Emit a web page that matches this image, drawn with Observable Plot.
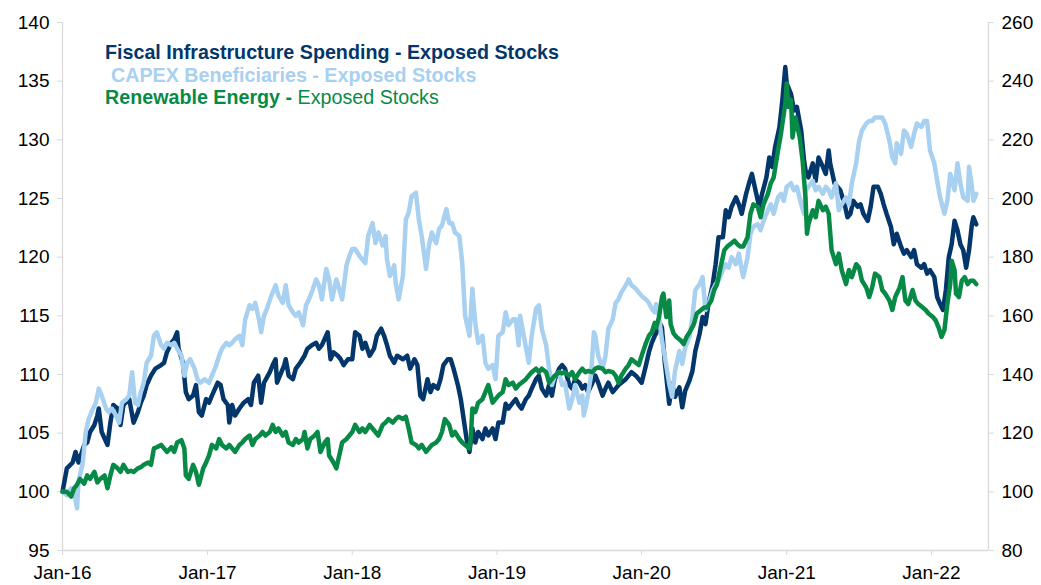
<!DOCTYPE html>
<html><head><meta charset="utf-8">
<script src="https://cdn.jsdelivr.net/npm/d3@7"></script>
<script src="https://cdn.jsdelivr.net/npm/@observablehq/plot@0.6"></script>
<style>
body{margin:0;background:#fff;}
#wrap{position:relative;width:1041px;height:585px;font-family:"Liberation Sans",Arial,sans-serif;}
#legend{position:absolute;left:105px;top:41px;font-size:19.7px;line-height:22.5px;z-index:2;white-space:pre;}
#legend b{font-weight:bold;}
</style></head><body><div id="wrap"><div id="legend"></div></div>
<script>
// ---- data (decimal year, index value) ----
const seriesNames = ["Fiscal Infrastructure Spending", "CAPEX Beneficiaries", "Renewable Energy"];
const seriesSuffix = " - Exposed Stocks";
const seriesColors = ["#03366A", "#A8D0F0", "#078A45"];
const leftTicks = [95,100,105,110,115,120,125,130,135,140];
const rightTicks = [80,100,120,140,160,180,200,220,240,260];
const xTickYears = [2016,2017,2018,2019,2020,2021,2022];

// Fiscal Infrastructure Spending (left axis)
const fiscal = [[2016.00,100.0],[2016.03,102.0],[2016.07,102.5],[2016.09,103.4],[2016.11,102.5],[2016.15,104.0],[2016.17,104.2],[2016.19,105.1],[2016.22,105.7],[2016.24,106.5],[2016.25,107.1],[2016.27,105.1],[2016.31,104.0],[2016.33,105.9],[2016.35,107.4],[2016.38,107.1],[2016.40,105.7],[2016.42,107.4],[2016.46,107.9],[2016.49,105.9],[2016.52,106.8],[2016.54,107.6],[2016.56,108.2],[2016.58,109.1],[2016.61,109.9],[2016.64,110.5],[2016.68,110.8],[2016.70,111.0],[2016.72,111.9],[2016.75,112.7],[2016.77,113.0],[2016.79,113.6],[2016.80,112.2],[2016.83,111.0],[2016.85,108.5],[2016.87,107.9],[2016.90,108.2],[2016.92,109.1],[2016.94,106.8],[2016.96,106.5],
[2016.99,107.9],[2017.01,107.6],[2017.03,108.2],[2017.07,109.3],[2017.09,109.1],[2017.11,107.9],[2017.14,107.4],[2017.15,105.9],[2017.17,107.4],[2017.19,106.5],[2017.22,107.1],[2017.25,107.6],[2017.28,107.9],[2017.30,107.4],[2017.32,109.3],[2017.35,109.9],[2017.37,107.6],[2017.39,109.3],[2017.43,110.2],[2017.45,110.8],[2017.47,111.3],[2017.48,109.3],[2017.51,110.2],[2017.53,110.8],[2017.54,111.3],[2017.56,109.9],[2017.59,109.6],[2017.61,110.5],[2017.64,111.0],[2017.67,111.6],[2017.69,112.2],[2017.72,112.5],[2017.75,112.7],[2017.77,112.2],[2017.79,112.5],[2017.83,113.6],[2017.85,111.3],[2017.87,111.9],[2017.90,111.6],[2017.92,111.3],[2017.94,110.8],[2017.97,111.3],[2018.00,111.3],
[2018.02,113.6],[2018.05,113.3],[2018.07,112.2],[2018.09,112.7],[2018.12,111.6],[2018.15,112.2],[2018.17,113.3],[2018.20,113.9],[2018.22,113.3],[2018.24,112.5],[2018.26,111.6],[2018.29,111.0],[2018.31,111.6],[2018.35,111.3],[2018.38,111.6],[2018.40,110.5],[2018.43,111.3],[2018.45,110.8],[2018.47,108.2],[2018.49,107.9],[2018.52,109.6],[2018.54,108.5],[2018.56,109.1],[2018.59,108.8],[2018.61,109.6],[2018.63,110.8],[2018.66,111.3],[2018.68,111.3],[2018.70,110.5],[2018.73,109.1],[2018.75,107.9],[2018.77,106.2],[2018.79,104.5],[2018.81,103.4],[2018.83,105.4],[2018.85,104.2],[2018.87,105.1],[2018.90,104.5],[2018.92,105.4],[2018.94,104.8],[2018.97,105.4],[2018.99,104.5],[2019.01,105.9],[2019.04,105.9],
[2019.06,107.5],[2019.08,107.1],[2019.11,107.6],[2019.13,107.9],[2019.15,107.4],[2019.17,107.1],[2019.20,107.9],[2019.22,108.2],[2019.24,108.8],[2019.27,109.6],[2019.29,109.9],[2019.31,108.8],[2019.34,108.2],[2019.36,109.1],[2019.38,108.2],[2019.40,109.6],[2019.43,110.5],[2019.45,110.8],[2019.47,110.5],[2019.50,109.1],[2019.52,108.8],[2019.54,109.6],[2019.57,109.3],[2019.59,108.8],[2019.61,109.1],[2019.63,108.5],[2019.66,109.3],[2019.68,109.9],[2019.70,109.3],[2019.73,108.2],[2019.75,108.8],[2019.77,109.3],[2019.80,108.5],[2019.82,108.8],[2019.84,109.1],[2019.86,109.3],[2019.89,109.6],[2019.91,109.9],[2019.93,110.2],[2019.96,109.9],[2019.98,109.6],[2020.00,109.3],[2020.03,110.8],[2020.05,111.9],[2020.07,112.7],[2020.09,113.3],
[2020.10,113.5],[2020.12,114.5],[2020.14,114.0],[2020.16,111.0],[2020.19,107.5],[2020.21,109.2],[2020.23,108.1],[2020.26,108.9],[2020.28,107.2],[2020.30,108.6],[2020.33,109.5],[2020.35,110.3],[2020.37,112.0],[2020.40,113.5],[2020.42,114.9],[2020.44,114.3],[2020.46,116.0],[2020.49,117.7],[2020.51,119.4],[2020.53,121.7],[2020.56,121.7],[2020.58,124.0],[2020.60,123.4],[2020.62,124.3],[2020.65,125.1],[2020.67,124.5],[2020.69,123.7],[2020.72,125.4],[2020.74,126.3],[2020.76,127.1],[2020.79,125.4],[2020.81,124.3],[2020.83,125.4],[2020.86,126.8],[2020.88,128.5],[2020.90,127.7],[2020.92,129.4],[2020.95,131.1],[2020.97,133.4],[2020.99,136.2],[2021.00,134.8],[2021.03,133.9],[2021.05,132.5],[2021.07,132.8],[2021.10,130.8],[2021.12,128.2],
[2021.13,127.4],[2021.15,126.8],[2021.18,128.0],[2021.20,126.5],[2021.22,128.5],[2021.25,127.7],[2021.27,127.1],[2021.29,129.1],[2021.30,128.0],[2021.33,126.3],[2021.35,126.0],[2021.37,125.7],[2021.40,124.5],[2021.42,123.4],[2021.44,123.7],[2021.46,124.8],[2021.49,124.3],[2021.51,124.5],[2021.53,123.7],[2021.56,123.1],[2021.58,124.3],[2021.60,126.0],[2021.63,126.0],[2021.65,125.4],[2021.67,124.5],[2021.69,123.7],[2021.72,122.6],[2021.74,121.1],[2021.76,122.0],[2021.79,120.9],[2021.81,120.3],[2021.83,120.6],[2021.86,120.0],[2021.88,120.6],[2021.90,119.4],[2021.93,119.1],[2021.95,119.4],[2021.97,118.6],[2021.99,118.9],[2022.02,118.3],[2022.04,116.6],[2022.06,116.0],[2022.08,115.5],[2022.10,117.2],[2022.12,120.0],[2022.14,121.1],[2022.16,123.1],[2022.18,122.3],[2022.20,121.1],[2022.22,120.6],[2022.24,119.1],[2022.26,120.6],[2022.28,122.8],[2022.29,123.4],[2022.31,122.8]];

// CAPEX Beneficiaries (left axis)
const capex = [[2016.00,100.0],[2016.03,99.7],[2016.06,100.3],[2016.08,100.0],[2016.10,98.6],[2016.11,100.8],[2016.14,102.5],[2016.16,105.1],[2016.18,106.2],[2016.20,106.8],[2016.23,107.6],[2016.25,108.8],[2016.27,108.2],[2016.30,107.1],[2016.32,106.8],[2016.34,107.1],[2016.37,106.5],[2016.39,105.9],[2016.41,107.6],[2016.44,107.9],[2016.46,108.2],[2016.48,110.2],[2016.50,107.6],[2016.52,107.4],[2016.54,108.5],[2016.56,109.3],[2016.58,111.0],[2016.61,111.6],[2016.63,113.3],[2016.65,113.6],[2016.68,112.5],[2016.70,112.2],[2016.72,112.7],[2016.75,112.5],[2016.77,112.7],[2016.79,112.2],[2016.82,111.6],[2016.84,109.9],[2016.86,111.0],[2016.88,111.3],[2016.91,110.5],[2016.93,109.6],[2016.95,109.3],[2016.98,109.6],
[2017.01,109.3],[2017.03,109.9],[2017.06,110.8],[2017.08,111.6],[2017.10,112.2],[2017.13,112.7],[2017.15,112.5],[2017.17,112.7],[2017.19,113.0],[2017.22,113.3],[2017.24,112.5],[2017.26,114.7],[2017.29,115.9],[2017.31,115.6],[2017.33,116.1],[2017.36,114.4],[2017.37,113.6],[2017.39,115.0],[2017.41,115.6],[2017.44,116.7],[2017.47,117.6],[2017.49,116.7],[2017.52,116.1],[2017.54,117.6],[2017.56,115.9],[2017.59,115.3],[2017.61,115.0],[2017.63,115.3],[2017.66,114.2],[2017.68,115.9],[2017.70,116.4],[2017.72,117.0],[2017.75,118.1],[2017.77,117.6],[2017.79,116.4],[2017.82,119.0],[2017.84,118.1],[2017.86,116.4],[2017.89,118.1],[2017.91,117.3],[2017.93,116.4],[2017.96,119.3],[2017.98,120.1],[2018.00,120.7],
[2018.02,120.7],[2018.05,120.1],[2018.07,119.8],[2018.09,119.5],[2018.11,121.8],[2018.14,122.9],[2018.16,121.2],[2018.18,122.1],[2018.21,121.0],[2018.23,121.8],[2018.24,119.8],[2018.26,118.4],[2018.29,119.3],[2018.30,117.8],[2018.32,116.4],[2018.35,118.4],[2018.37,123.2],[2018.39,123.8],[2018.41,125.2],[2018.44,125.5],[2018.46,123.2],[2018.48,121.8],[2018.51,119.0],[2018.53,121.0],[2018.55,122.1],[2018.58,121.2],[2018.60,122.4],[2018.62,122.7],[2018.65,124.1],[2018.67,122.9],[2018.69,122.9],[2018.71,122.1],[2018.74,121.8],[2018.76,119.5],[2018.78,115.0],[2018.81,113.3],[2018.83,117.3],[2018.85,114.4],[2018.87,112.7],[2018.90,113.3],[2018.92,111.0],[2018.94,110.5],[2018.97,110.8],[2018.99,109.6],[2019.01,113.3],[2019.04,113.6],
[2019.06,115.3],[2019.08,114.2],[2019.11,114.7],[2019.13,114.7],[2019.15,112.5],[2019.16,115.0],[2019.19,113.0],[2019.22,111.0],[2019.24,113.3],[2019.27,115.6],[2019.29,115.9],[2019.31,113.9],[2019.34,112.5],[2019.36,110.5],[2019.38,109.1],[2019.40,109.9],[2019.43,110.2],[2019.45,109.1],[2019.47,109.3],[2019.50,107.1],[2019.52,107.9],[2019.54,109.1],[2019.57,107.6],[2019.59,108.2],[2019.60,106.5],[2019.62,107.6],[2019.65,109.9],[2019.67,113.6],[2019.68,113.3],[2019.70,111.6],[2019.73,110.5],[2019.75,111.6],[2019.77,113.9],[2019.80,114.7],[2019.82,116.1],[2019.84,116.4],[2019.86,117.0],[2019.89,117.6],[2019.91,118.1],[2019.93,117.6],[2019.96,117.3],[2019.98,117.0],[2020.00,116.7],[2020.03,116.4],[2020.05,116.1],[2020.07,115.6],[2020.09,115.3],
[2020.10,116.0],[2020.12,114.9],[2020.14,112.9],[2020.16,111.5],[2020.19,109.2],[2020.21,108.1],[2020.23,110.3],[2020.26,112.0],[2020.28,110.9],[2020.30,112.3],[2020.33,113.2],[2020.35,114.9],[2020.37,117.2],[2020.40,117.7],[2020.42,118.3],[2020.44,115.5],[2020.46,116.0],[2020.49,117.2],[2020.51,117.7],[2020.53,118.0],[2020.56,118.9],[2020.58,119.4],[2020.60,119.1],[2020.62,120.0],[2020.65,119.4],[2020.67,120.3],[2020.69,118.9],[2020.70,118.3],[2020.73,120.0],[2020.75,122.0],[2020.77,122.6],[2020.80,122.8],[2020.82,122.3],[2020.84,123.1],[2020.87,124.0],[2020.89,124.5],[2020.91,123.7],[2020.94,125.1],[2020.96,125.4],[2020.98,124.8],[2021.00,126.0],[2021.03,126.3],[2021.05,125.7],[2021.07,126.0],[2021.10,124.5],[2021.12,123.7],
[2021.13,125.7],[2021.15,126.0],[2021.18,126.5],[2021.20,125.7],[2021.22,126.0],[2021.25,125.4],[2021.27,126.0],[2021.29,125.7],[2021.31,125.1],[2021.34,126.3],[2021.36,124.0],[2021.38,124.5],[2021.41,125.1],[2021.43,124.5],[2021.45,126.3],[2021.48,128.0],[2021.50,129.9],[2021.52,130.8],[2021.55,131.4],[2021.57,131.6],[2021.59,131.6],[2021.61,131.9],[2021.64,131.9],[2021.66,131.9],[2021.68,131.4],[2021.71,129.9],[2021.73,128.5],[2021.75,128.0],[2021.76,129.7],[2021.79,128.8],[2021.81,130.8],[2021.83,130.5],[2021.86,129.4],[2021.88,130.5],[2021.90,131.4],[2021.93,131.1],[2021.95,131.6],[2021.97,131.6],[2021.99,129.1],[2022.02,128.0],[2022.04,126.5],[2022.06,125.1],[2022.09,123.7],[2022.11,124.8],[2022.13,127.1],[2022.16,125.7],[2022.18,128.0],[2022.20,126.3],[2022.22,125.1],[2022.25,124.8],[2022.26,127.7],[2022.28,126.0],[2022.29,124.8],[2022.31,125.4]];

// Renewable Energy (right axis)
const renewable = [[2016.00,100.0],[2016.03,100.0],[2016.06,98.4],[2016.08,101.2],[2016.10,102.4],[2016.12,104.4],[2016.15,102.8],[2016.17,105.6],[2016.19,104.4],[2016.22,106.8],[2016.24,103.2],[2016.26,104.4],[2016.29,105.6],[2016.31,101.2],[2016.33,105.6],[2016.35,109.2],[2016.38,108.0],[2016.40,106.8],[2016.42,109.2],[2016.45,106.8],[2016.47,107.2],[2016.49,106.8],[2016.52,108.0],[2016.54,108.4],[2016.56,109.2],[2016.59,110.0],[2016.61,109.2],[2016.63,114.8],[2016.65,115.2],[2016.68,116.0],[2016.70,114.8],[2016.72,113.6],[2016.75,115.2],[2016.77,113.6],[2016.79,116.8],[2016.82,117.6],[2016.84,114.8],[2016.85,105.6],[2016.87,104.4],[2016.90,109.2],[2016.92,106.8],[2016.94,102.4],[2016.97,108.0],
[2016.99,110.0],[2017.01,112.4],[2017.03,116.0],[2017.06,114.8],[2017.08,118.0],[2017.10,116.0],[2017.13,114.8],[2017.15,116.0],[2017.17,114.8],[2017.19,113.6],[2017.22,116.0],[2017.24,116.8],[2017.26,118.0],[2017.29,119.2],[2017.31,116.0],[2017.33,118.0],[2017.36,119.2],[2017.38,120.4],[2017.40,119.2],[2017.43,120.4],[2017.45,122.8],[2017.47,120.4],[2017.49,121.6],[2017.52,119.2],[2017.54,120.4],[2017.56,116.8],[2017.59,116.0],[2017.61,118.0],[2017.63,116.8],[2017.66,118.0],[2017.67,120.4],[2017.69,114.8],[2017.71,118.0],[2017.74,119.2],[2017.76,120.4],[2017.78,113.6],[2017.81,116.8],[2017.83,118.0],[2017.84,112.4],[2017.87,110.0],[2017.89,108.0],[2017.91,112.4],[2017.93,116.8],[2017.96,118.0],[2017.98,119.2],[2018.00,120.4],
[2018.02,122.8],[2018.05,120.4],[2018.07,121.6],[2018.09,120.4],[2018.12,122.8],[2018.14,121.6],[2018.16,120.4],[2018.18,119.2],[2018.21,122.8],[2018.23,123.6],[2018.25,124.8],[2018.28,123.6],[2018.30,124.8],[2018.32,125.6],[2018.35,124.8],[2018.37,125.6],[2018.39,121.6],[2018.41,116.8],[2018.44,116.0],[2018.46,114.8],[2018.48,116.0],[2018.51,113.6],[2018.53,114.8],[2018.55,116.0],[2018.58,116.8],[2018.60,118.0],[2018.62,120.4],[2018.64,124.8],[2018.67,122.8],[2018.69,119.2],[2018.71,120.4],[2018.74,118.0],[2018.76,116.8],[2018.78,116.0],[2018.81,114.8],[2018.82,119.2],[2018.83,128.4],[2018.85,127.2],[2018.87,130.4],[2018.90,131.6],[2018.92,134.0],[2018.94,136.4],[2018.97,130.4],[2018.99,131.6],[2019.01,132.8],[2019.04,134.0],
[2019.06,138.4],[2019.08,136.4],[2019.11,137.2],[2019.13,135.2],[2019.15,136.4],[2019.17,137.2],[2019.20,138.4],[2019.22,139.6],[2019.24,140.8],[2019.27,142.0],[2019.29,140.8],[2019.31,142.0],[2019.34,140.8],[2019.36,137.2],[2019.38,138.4],[2019.40,139.6],[2019.43,140.8],[2019.45,140.4],[2019.47,140.8],[2019.50,139.6],[2019.52,140.8],[2019.54,138.4],[2019.57,140.8],[2019.59,142.0],[2019.61,140.8],[2019.63,141.2],[2019.66,140.8],[2019.68,142.0],[2019.70,142.4],[2019.73,142.0],[2019.75,140.8],[2019.77,141.2],[2019.80,140.8],[2019.82,139.6],[2019.84,137.2],[2019.86,139.6],[2019.89,142.0],[2019.91,143.2],[2019.93,145.2],[2019.96,144.0],[2019.98,143.2],[2020.00,146.4],[2020.03,150.8],[2020.05,153.2],[2020.07,154.4],[2020.09,157.6],
[2020.10,156.0],[2020.12,159.6],[2020.14,166.4],[2020.15,167.6],[2020.17,159.6],[2020.19,165.2],[2020.20,157.2],[2020.22,154.0],[2020.24,152.8],[2020.27,151.6],[2020.29,150.4],[2020.31,152.8],[2020.34,155.2],[2020.36,157.2],[2020.38,160.8],[2020.41,162.0],[2020.43,162.8],[2020.45,162.8],[2020.48,165.2],[2020.50,168.8],[2020.52,170.8],[2020.54,175.6],[2020.57,182.4],[2020.59,183.6],[2020.61,184.4],[2020.64,185.6],[2020.66,184.4],[2020.68,183.6],[2020.70,183.6],[2020.73,186.8],[2020.75,194.8],[2020.77,198.0],[2020.80,197.2],[2020.82,193.6],[2020.84,198.0],[2020.87,201.6],[2020.89,205.2],[2020.91,207.2],[2020.94,216.4],[2020.96,222.0],[2020.99,232.4],[2021.00,239.2],[2021.01,231.2],[2021.03,233.6],[2021.04,220.8],[2021.06,227.6],[2021.09,220.8],[2021.11,212.8],
[2021.13,200.0],[2021.14,188.0],[2021.15,191.2],[2021.18,196.0],[2021.20,193.6],[2021.22,199.2],[2021.25,196.0],[2021.27,197.2],[2021.29,194.8],[2021.31,182.4],[2021.34,177.6],[2021.36,181.2],[2021.38,175.6],[2021.41,170.8],[2021.43,175.6],[2021.45,173.2],[2021.48,177.6],[2021.50,176.4],[2021.52,172.0],[2021.55,169.6],[2021.57,166.4],[2021.59,169.6],[2021.61,174.4],[2021.64,173.2],[2021.66,168.8],[2021.68,167.6],[2021.71,165.2],[2021.73,162.0],[2021.75,166.4],[2021.78,169.6],[2021.80,173.2],[2021.82,165.2],[2021.84,164.0],[2021.87,168.8],[2021.89,165.2],[2021.91,164.0],[2021.94,162.8],[2021.96,162.0],[2021.98,160.8],[2022.01,159.6],[2022.03,158.4],[2022.05,156.0],[2022.07,152.8],[2022.09,155.2],[2022.11,164.0],[2022.13,170.8],[2022.14,178.8],[2022.16,175.6],[2022.17,167.6],[2022.19,166.4],[2022.21,172.0],[2022.23,173.2],[2022.25,170.8],[2022.27,172.0],[2022.29,172.0],[2022.31,170.8]];

// ---- helpers ----
function yearToDate(t){
  const y = Math.floor(t + 1e-9);
  const a = Date.UTC(y,0,1), b = Date.UTC(y+1,0,1);
  return new Date(a + (t - y) * (b - a));
}
// right axis (80..260) shares the frame with left axis (95..140)
const toLeft = r => 95 + (r - 80) / 4;
const toRight = l => Math.round(80 + (l - 95) * 4);

const rows = (arr, conv) => arr.map(([t, v]) => ({date: yearToDate(t), value: conv ? conv(v) : v}));
const fiscalRows = rows(fiscal);
const capexRows = rows(capex);
const renewRows = rows(renewable, toLeft);

const xStart = new Date(Date.UTC(2016,0,1));
const xEnd = new Date(Date.UTC(2022,4,25));
const xTicks = xTickYears.map(y => new Date(Date.UTC(y,0,1)));
const fmtX = d3.utcFormat("%b-%y");
const axisGrey = "#D9D9D9";

const chart = Plot.plot({
  width: 1041, height: 585,
  marginLeft: 62, marginRight: 53, marginTop: 22, marginBottom: 35,
  style: {fontFamily: "'Liberation Sans', Arial, sans-serif", fontSize: "19px", color: "#000", background: "#fff", overflow: "visible"},
  x: {type: "utc", domain: [xStart, xEnd]},
  y: {domain: [95, 140]},
  marks: [
    Plot.ruleY([95], {stroke: axisGrey, strokeWidth: 1.3}),
    Plot.ruleX([xStart, xEnd], {stroke: axisGrey, strokeWidth: 1.3}),
    Plot.axisY(leftTicks, {anchor: "left", tickSize: 5, tickPadding: 8, stroke: axisGrey, fill: "#000", label: null}),
    Plot.axisY(rightTicks.map(toLeft), {anchor: "right", tickSize: 5, tickPadding: 8, stroke: axisGrey, fill: "#000", label: null, tickFormat: d => String(toRight(d))}),
    Plot.axisX(xTicks, {anchor: "bottom", tickSize: 5, tickPadding: 10, stroke: axisGrey, fill: "#000", label: null, tickFormat: d => fmtX(d)}),
    Plot.line(fiscalRows, {x: "date", y: "value", stroke: seriesColors[0], strokeWidth: 4.5}),
    Plot.line(capexRows, {x: "date", y: "value", stroke: seriesColors[1], strokeWidth: 4.5}),
    Plot.line(renewRows, {x: "date", y: "value", stroke: seriesColors[2], strokeWidth: 4.5})
  ]
});
document.getElementById("wrap").appendChild(chart);

const legend = document.getElementById("legend");
legend.innerHTML =
  `<div style="color:${seriesColors[0]}"><b>${seriesNames[0]}${seriesSuffix}</b></div>` +
  `<div style="color:${seriesColors[1]};padding-left:6px"><b>${seriesNames[1]}${seriesSuffix}</b></div>` +
  `<div style="color:${seriesColors[2]}"><b>${seriesNames[2]} -</b>${seriesSuffix.replace(" -","")}</div>`;
</script></body></html>
